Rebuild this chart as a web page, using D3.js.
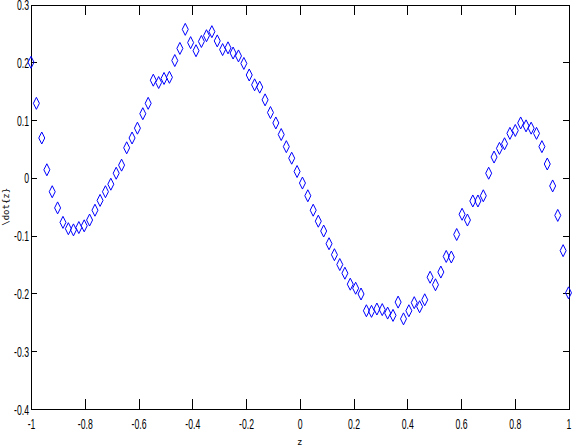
<!DOCTYPE html>
<html lang="en">
<head>
<meta charset="utf-8">
<title>zdot vs z</title>
<script src="https://d3js.org/d3.v7.min.js"></script>
<style>
  body { margin: 0; background: #fff; }
  .axis path, .axis line { stroke: #000; stroke-width: 1px; shape-rendering: crispEdges; }
  .axis text { font-family: "Liberation Sans", Arial, sans-serif; font-size: 14px; fill: #000; }
  .lbl { font-family: "DejaVu Sans Mono", monospace; font-size: 9px; fill: #000; }
  .pt { fill: none; stroke: #0000ff; stroke-width: 1px; }
</style>
</head>
<body>
<div id="chart"></div>
<script>
// values
var zVals = [-1.000, -0.980, -0.960, -0.941, -0.921, -0.901, -0.881, -0.861, -0.842, -0.822,
             -0.802, -0.782, -0.762, -0.743, -0.723, -0.703, -0.683, -0.663, -0.644, -0.624,
             -0.604, -0.584, -0.564, -0.545, -0.525, -0.505, -0.485, -0.465, -0.446, -0.426,
             -0.406, -0.386, -0.366, -0.347, -0.327, -0.307, -0.287, -0.267, -0.248, -0.228,
             -0.208, -0.188, -0.168, -0.149, -0.129, -0.109, -0.089, -0.069, -0.050, -0.030,
             -0.010, 0.010, 0.030, 0.050, 0.069, 0.089, 0.109, 0.129, 0.149, 0.168,
             0.188, 0.208, 0.228, 0.248, 0.267, 0.287, 0.307, 0.327, 0.347, 0.366,
             0.386, 0.406, 0.426, 0.446, 0.465, 0.485, 0.505, 0.525, 0.545, 0.564,
             0.584, 0.604, 0.624, 0.644, 0.663, 0.683, 0.703, 0.723, 0.743, 0.762,
             0.782, 0.802, 0.822, 0.842, 0.861, 0.881, 0.901, 0.921, 0.941, 0.960,
             0.980, 1.000];
var zdotVals = [0.200, 0.129, 0.069, 0.014, -0.024, -0.052, -0.077, -0.088, -0.090, -0.086,
                -0.083, -0.073, -0.056, -0.039, -0.024, -0.011, 0.008, 0.022, 0.052, 0.069,
                0.086, 0.111, 0.129, 0.169, 0.165, 0.172, 0.174, 0.203, 0.224, 0.257,
                0.234, 0.220, 0.236, 0.246, 0.253, 0.237, 0.222, 0.225, 0.216, 0.211,
                0.198, 0.178, 0.161, 0.157, 0.135, 0.113, 0.095, 0.075, 0.054, 0.034,
                0.011, -0.009, -0.031, -0.056, -0.075, -0.092, -0.114, -0.133, -0.150, -0.165,
                -0.184, -0.191, -0.201, -0.230, -0.231, -0.227, -0.228, -0.234, -0.238, -0.215,
                -0.244, -0.230, -0.216, -0.223, -0.211, -0.172, -0.185, -0.163, -0.136, -0.137,
                -0.098, -0.063, -0.073, -0.040, -0.040, -0.031, 0.008, 0.036, 0.051, 0.059,
                0.077, 0.082, 0.095, 0.090, 0.086, 0.077, 0.054, 0.024, -0.014, -0.065,
                -0.126, -0.199];

var xTicks = [-1, -0.8, -0.6, -0.4, -0.2, 0, 0.2, 0.4, 0.6, 0.8, 1];
var xTickLabels = ["-1", "-0.8", "-0.6", "-0.4", "-0.2", "0", "0.2", "0.4", "0.6", "0.8", "1"];
var yTicks = [-0.4, -0.3, -0.2, -0.1, 0, 0.1, 0.2, 0.3];
var yTickLabels = ["-0.4", "-0.3", "-0.2", "-0.1", "0", "0.1", "0.2", "0.3"];

var width = 572, height = 446;
var plotLeft = 31, plotRight = 568.5, plotTop = 4.5, plotBottom = 409;

var svg = d3.select("#chart").append("svg")
    .attr("width", width)
    .attr("height", height);

var x = d3.scaleLinear().domain([-1, 1]).range([plotLeft, plotRight]);
var y = d3.scaleLinear().domain([-0.4, 0.3]).range([plotBottom, plotTop]);

// box with inward ticks on all four sides
var gx = svg.append("g").attr("class", "axis")
    .attr("transform", "translate(0," + plotBottom + ")")
    .call(d3.axisBottom(x).tickValues(xTicks).tickSize(-10).tickSizeOuter(0)
          .tickFormat(function(d, i) { return xTickLabels[i]; }));
gx.selectAll("text")
    .attr("y", 0).attr("dy", null)
    .attr("transform", "translate(0,20) scale(0.62,1)");

svg.append("g").attr("class", "axis")
    .attr("transform", "translate(0," + plotTop + ")")
    .call(d3.axisTop(x).tickValues(xTicks).tickSize(-10).tickSizeOuter(0).tickFormat(""));

var gy = svg.append("g").attr("class", "axis")
    .attr("transform", "translate(" + plotLeft + ",0)")
    .call(d3.axisLeft(y).tickValues(yTicks).tickSize(-6).tickSizeOuter(0)
          .tickFormat(function(d, i) { return yTickLabels[i]; }));
gy.selectAll("text")
    .attr("x", 0).attr("dy", null)
    .attr("transform", "translate(-2,5) scale(0.62,1)");

svg.append("g").attr("class", "axis")
    .attr("transform", "translate(" + plotRight + ",0)")
    .call(d3.axisRight(y).tickValues(yTicks).tickSize(-6).tickSizeOuter(0).tickFormat(""));

// diamond markers
var diamond = "M0,-6L3,0L0,6L-3,0Z";
svg.append("g").selectAll("path")
    .data(zVals)
    .enter().append("path")
    .attr("class", "pt")
    .attr("d", diamond)
    .attr("transform", function(d, i) { return "translate(" + x(d) + "," + y(zdotVals[i]) + ")"; });

// axis labels
svg.append("text").attr("class", "lbl")
    .attr("text-anchor", "middle")
    .attr("transform", "translate(9," + ((plotTop + plotBottom) / 2) + ") rotate(-90)")
    .text("\\dot{z}");

svg.append("text").attr("class", "lbl")
    .attr("text-anchor", "middle")
    .attr("x", (plotLeft + plotRight) / 2)
    .attr("y", 445)
    .text("z");
</script>
</body>
</html>
